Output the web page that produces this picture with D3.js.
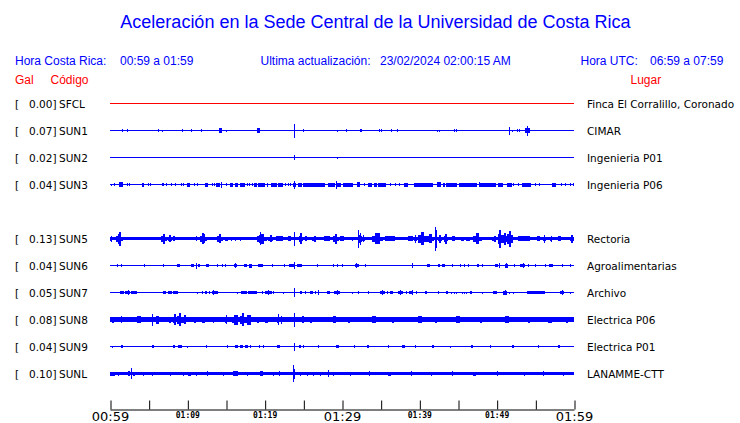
<!DOCTYPE html>
<html><head><meta charset="utf-8">
<script src="https://cdn.jsdelivr.net/npm/d3@7"></script>
<style>
html,body{margin:0;padding:0;background:#fff;}
svg{display:block;}
</style></head>
<body>
<svg id="chart" width="740" height="423"></svg>
<script>
// ---------------- DATA ----------------
const titleText = "Aceleración en la Sede Central de la Universidad de Costa Rica";
const localRange = "00:59 a 01:59";
const utcRange = "06:59 a 07:59";
const lastUpdate = "23/02/2024 02:00:15 AM";

const slots  = [0, 1, 2, 3, 5, 6, 7, 8, 9, 10];
const codes  = ["SFCL", "SUN1", "SUN2", "SUN3", "SUN5", "SUN6", "SUN7", "SUN8", "SUN9", "SUNL"];
const gals   = [0.00, 0.07, 0.02, 0.04, 0.13, 0.04, 0.05, 0.08, 0.04, 0.10];
const places = ["Finca El Corralillo, Coronado", "CIMAR", "Ingenieria P01", "Ingenieria P06",
                "Rectoria", "Agroalimentarias", "Archivo", "Electrica P06", "Electrica P01", "LANAMME-CTT"];
// background noise level (relative amplitude)
const noiseLevels = [0, 0, 0, 0, 1.7, 0, 0, 2.3, 0, 1.7];

const tickMinutes = [0, 5, 10, 15, 20, 25, 30, 35, 40, 45, 50, 55, 60];
const tickLabels  = ["00:59", "01:09", "01:19", "01:29", "01:39", "01:49", "01:59"];

// events: [minutes after 00:59, duration in minutes, relative amplitude]
const sfclEvents = [];
const sun1Events = [[1.59,0,1.5],[2.24,0,1.5],[6.25,0,1.5],[6.76,0,1],[9.35,0,1.5],[10.51,0,1.5],[11.81,0,1.5],[14.09,0.4,2.5],[14.96,0,1],[19.05,0.4,2.5],[23.83,0,7],[24.92,0,1.5],[29.39,0,1],[30.56,0,1.5],[32.33,0.26,1.5],[33.53,0,0.7],[34.75,0,1.5],[35.08,0,1.5],[36.37,0,1.5],[37.15,0,1.5],[42.32,0,1.2],[42.54,0,1.2],[44.52,0,1.5],[44.70,0,1.5],[45.69,0,0.7],[49.18,0,0.7],[51.63,0,4],[51.98,0,1],[52.59,0,1.5],[52.93,0,1.5],[53.66,0.65,2.5],[53.96,0,5]];
const sun2Events = [[23.83,0,2.5],[29.39,0,1]];
const sun3Events = [[0.13,0,1],[0.56,0,1.5],[1.20,0.52,2.5],[2.16,0,1.5],[2.46,0,1.5],[4.18,0.26,1.8],[4.87,0,1.5],[5.13,0,1.5],[6.69,0,1.5],[6.89,0,1.5],[7.28,0,1.5],[7.93,0,1.5],[8.41,0,1.5],[9.22,0,1.5],[9.48,0,1.5],[9.92,0.43,1.8],[10.90,0,1.5],[11.25,0,1.5],[12.25,0.39,1.8],[13.15,0,1.5],[13.45,0,1.5],[13.75,0.48,1.8],[14.35,0.17,3],[14.96,0,1.5],[15.52,0.43,1.8],[16.16,0.4,1.8],[16.81,0.65,1.8],[17.75,0,1.5],[18.01,0,1.5],[18.32,0,1.5],[18.66,0.31,1.8],[19.18,0.87,1.8],[20.26,0.21,1.8],[20.78,0.78,1.8],[21.76,0.65,1.8],[22.67,0,1.5],[22.98,0,1.5],[23.28,0,1.5],[23.70,0.31,1.8],[23.83,0,4],[24.35,0.44,2.2],[25.0,2.8,1.8],[28.15,0.95,1.8],[29.26,0,4],[29.39,0.48,2.2],[30.17,1.29,1.8],[31.98,0.35,2.5],[32.85,0,1.5],[33.40,0.44,1.8],[34.18,0.31,1.8],[34.69,1.0,1.8],[36.21,0,1.5],[36.85,0,1.5],[37.41,0,1.5],[38.02,0.56,1.8],[39.31,2.5,1.8],[42.25,0.52,2.5],[43.02,0.3,1.8],[43.45,1.38,1.8],[45.13,2.29,1.8],[47.75,0,2.5],[47.85,2.07,1.8],[50.21,0.65,1.8],[51.30,0.65,1.8],[52.15,0,1.5],[52.80,0,1.5],[53.24,1.16,1.8],[54.96,0,1.5],[55.51,0,1.5],[57.12,0.56,1.8],[58.28,0,1.5],[58.88,0,1.5],[59.48,0,1.5],[59.91,0,1.5]];
const sun5Events = [[0,0.43,3],[0.78,0.87,5],[1.1,0.3,7],[6.59,0.74,5],[7.46,0.52,3.5],[8.19,0.22,2.5],[11.12,0.17,2.5],[11.64,0.87,4.5],[11.9,0.2,5.5],[13.80,0.85,4.5],[14.87,0.43,2],[15.65,0,2],[16.16,0,2],[16.81,0,2],[18.97,1.29,5],[19.3,0.4,6.5],[20.39,0.72,3.5],[21.43,0.98,2.5],[23.06,0.35,2.5],[23.83,0,7],[24.44,0.56,5.5],[25.22,0.3,2.5],[26.16,0.57,3],[27.67,0.78,2.5],[28.80,0.85,5],[29.74,0.52,2.5],[31.25,0,2],[32.11,0.15,9],[32.2,0.35,6],[32.55,0.43,3.5],[33.84,1.42,5.5],[35.56,1.29,2.5],[38.57,0.65,2.5],[39.31,0.43,4],[39.87,1.09,6.5],[41.03,0.87,4.5],[41.99,0.34,9],[42.05,0,12],[42.45,0.44,4],[43.19,0.56,5],[44.19,0.43,2.5],[45.35,0.43,2],[46.03,0.52,2],[46.90,1.16,5.5],[49.36,0.65,3],[50.21,0.44,9],[50.65,0.65,6],[51.30,0.85,8],[52.80,1.51,2.5],[55.18,0.43,2.5],[55.95,0.43,4],[56.90,0.43,3],[57.97,0.31,2.5],[59.48,0.52,4]];
const sun6Events = [[0.87,0.22,1.5],[1.42,0,1.5],[3.14,0,0.7],[4.44,0,1.5],[6.89,0,1.5],[8.66,0.39,1.5],[10.47,0.43,1.5],[11.08,0,3],[11.34,0.3,1.5],[12.38,0.43,1.5],[13.88,0,1.5],[14.44,0,1.5],[14.87,0,1.5],[16.07,0.31,1.5],[16.16,0,2.5],[17.33,0.35,1.5],[17.97,0.43,2],[19.10,0.72,1.5],[20.91,0.21,1.5],[22.54,0,1.5],[23.15,0.65,1.5],[23.83,0,3.5],[24.14,0.72,1.5],[26.81,0,1.5],[28.88,0,1.5],[29.31,0.21,1.5],[29.96,0,1.5],[31.68,0.56,1.5],[31.81,0,2.5],[32.97,0,1.5],[39.01,0,2.5],[41.03,0.35,1.5],[42.38,0.3,1.5],[42.89,0.43,1.5],[44.19,0,1.5],[45.26,0,1.5],[45.82,0,1.5],[46.33,0,1.5],[47.42,0.34,1.5],[48.07,0,1.5],[49.79,0.43,1.5],[50.34,0,2.5],[51.08,0.43,2],[51.21,0,2.5],[52.24,0,1.5],[53.02,0.65,1.5],[53.37,0,2.5],[54.09,0,1.5],[54.96,0,1.5],[56.25,0,1.5],[56.81,0.44,1.5],[58.41,0,1.5],[59.48,0,1.5]];
const sun7Events = [[1.29,0.56,1.5],[1.94,0.65,1.5],[2.29,0,2.5],[2.72,0.74,1.5],[6.89,0.35,1.5],[7.46,0.52,1.5],[8.19,0.57,1.5],[11.21,0,1],[11.86,0.21,1.5],[12.28,0.22,1.5],[12.80,0,1.5],[13.15,0.78,1.5],[13.36,0,2.5],[16.38,0,1],[16.94,0.74,1.5],[17.81,1.16,1.5],[19.62,0.21,1.5],[20.04,0.87,1.5],[20.47,0,2.5],[21.12,0,1.5],[22.41,0,1],[23.83,0,4.5],[24.57,0.3,1.5],[25.22,0,1.5],[25.86,0.43,1.5],[26.51,0,1.5],[26.86,0,2.5],[28.02,0.43,1.5],[29.0,0.74,1.5],[29.39,0,2.5],[31.25,0,1],[32.11,0,1.5],[33.40,0,1.5],[34.91,0.65,1.5],[35.13,0,2.5],[35.86,0,1.5],[36.21,0.35,1.5],[37.28,0.65,1.5],[37.50,0,2.5],[38.24,0,1.5],[38.66,0.48,1.5],[39.01,0,2.5],[39.57,0,1.5],[40.73,0.3,1.5],[42.45,0,1.5],[43.45,0.3,1.5],[44.10,0,1],[44.48,0,1],[44.74,0,1],[45.48,0,1],[45.78,0,1],[46.07,0,1],[46.55,0.3,1.5],[48.07,0,1],[49.57,0.44,1.5],[50.86,0.44,2],[51.08,0,2.5],[51.63,0,1],[52.07,0,1],[53.88,0.43,1.5],[54.31,1.94,1.5],[58.19,0.52,1.5],[58.41,0,2.5],[59.48,0,1]];
const sun8Events = [[0,0.65,3],[1.29,0.35,3.5],[3.01,1.51,3.5],[5.39,0.21,6],[5.60,1.08,4],[7.33,0.65,3],[8.11,0.6,5.5],[8.70,0.57,6.5],[9.27,0.85,4.5],[10.77,0.44,3],[11.64,0.87,3],[13.15,0.43,3],[14.87,0.43,4.5],[15.74,1.07,5],[16.81,0.65,6.5],[17.46,1.08,5],[18.75,0.65,3],[19.82,0.87,3],[21.56,0.43,5.5],[21.98,0.35,4],[23.83,0,7],[24.57,0.65,3.5],[25.64,0.65,3],[28.45,1.2,3.5],[30.5,0.8,3.2],[33.6,1.0,3.5],[36.2,0.6,3],[39.5,1.2,3.5],[41.9,0.5,3],[44.5,1.0,3.5],[47.6,0.8,3],[50.8,1.1,3.5],[53.9,0.6,3],[56.3,1.2,3.2],[58.8,0.6,3]];
const sun9Events = [[0.22,0,1],[1.38,0.26,1.5],[5.39,0.3,1.5],[8.19,0.22,1.5],[8.83,0.44,1.5],[9.99,0,1],[12.41,0.17,1.5],[15.17,0,1.5],[16.16,0.43,1.5],[16.81,0.43,1.5],[17.46,0.43,1.5],[18.10,0,1.5],[19.31,0,1.5],[19.75,0,1.5],[21.56,0.43,1.5],[23.83,0,4],[24.48,0.22,1.5],[25.00,0,1.5],[26.94,0,1.5],[29.22,0.35,1.5],[31.5,0,1.5],[33.2,0.3,1.5],[35.9,0,1.5],[37.8,0.4,1.5],[39.4,0,1.5],[41.6,0.3,1.5],[44.0,0,1],[46.7,0.3,1.5],[49.2,0,1.5],[52.0,0.3,1.5],[55.3,0,1.5],[57.9,0.3,1.5]];
const sunlEvents = [[0,0.65,2.2],[1.07,0,2],[2.37,0.22,2.5],[2.72,0,5.5],[3.01,0.22,2.2],[4.31,0,2.2],[5.39,0,2.2],[7.76,0,2.2],[9.40,0,2.2],[10.04,0.44,2.2],[11.12,0,2.2],[12.50,0,2.5],[14.61,0,2.2],[15.95,0.65,2.5],[17.67,0,2.2],[19.40,0.35,2.5],[21.12,0,2.2],[21.9,0,2.5],[23.62,0.3,5],[23.71,0,8.5],[24.57,0,2.2],[25.43,0,2.2],[26.29,0,2.2],[27.16,0,2.2],[28.15,0,3.5],[28.88,0,2.2],[31.0,0,2.2],[33.5,0,2.5],[36.0,0.3,2.2],[38.9,0,2.5],[41.5,0,2.2],[44.2,0,2.5],[47.0,0.3,2.2],[50.1,0,2.5],[53.5,0,2.2],[56.0,0,2.5],[58.6,0,2.2]];
const stationEvents = [sfclEvents, sun1Events, sun2Events, sun3Events, sun5Events, sun6Events, sun7Events, sun8Events, sun9Events, sunlEvents];

// ---------------- DRAW ----------------
const BLUE = "#0000ff", RED = "#ff0000";
const svg = d3.select("#chart");
svg.append("rect").attr("width", 740).attr("height", 423).attr("fill", "#fff");

const t0 = new Date(2024, 1, 23, 0, 59);
const t1 = new Date(2024, 1, 23, 1, 59);
const xTime = d3.scaleTime().domain([t0, t1]).range([110, 574]);
const x = d3.scaleLinear().domain([0, 60]).range([110, 574]);
const rowY = d3.scaleLinear().domain([0, 10]).range([103, 373]);
const amp = d3.scaleLinear().domain([0, 1]).range([0, 1]);

// Title
svg.append("text").attr("x", 375.5).attr("y", 28).attr("text-anchor", "middle")
  .attr("font-family", "Liberation Sans, Arial, sans-serif").attr("font-size", 18)
  .attr("fill", BLUE).text(titleText);

const hdr = svg.append("g").attr("font-family", "Liberation Sans, Arial, sans-serif")
  .attr("font-size", 12).attr("fill", BLUE);
hdr.append("text").attr("x", 15).attr("y", 65).text("Hora Costa Rica:");
hdr.append("text").attr("x", 120).attr("y", 65).text(localRange);
hdr.append("text").attr("x", 260.5).attr("y", 65).text("Ultima actualización:");
hdr.append("text").attr("x", 380).attr("y", 65).text(lastUpdate);
hdr.append("text").attr("x", 580.5).attr("y", 65).text("Hora UTC:");
hdr.append("text").attr("x", 650).attr("y", 65).text(utcRange);

const red = svg.append("g").attr("font-family", "Liberation Sans, Arial, sans-serif")
  .attr("font-size", 12).attr("fill", RED);
red.append("text").attr("x", 15).attr("y", 84).text("Gal");
red.append("text").attr("x", 50.5).attr("y", 84).text("Código");
red.append("text").attr("x", 630.5).attr("y", 84).text("Lugar");

// burst outline: block for small events, stepped spindle for large ones
function burstPath(d, cy) {
  const x0 = Math.round(x(d[0]));
  const x1 = Math.max(x0 + 1, Math.round(x(d[0] + d[1])));
  const h = Math.round(amp(d[2]) * 2) / 2;
  const w = x1 - x0;
  if (w < 3 || h <= 2.5) {
    return `M${x0},${cy - h}H${x1}V${cy + h}H${x0}Z`;
  }
  const xm = x0 + Math.max(1, Math.round(w * 0.3));
  const xe = x0 + Math.max(2, Math.round(w * 0.7));
  const hs = Math.round(h * 0.6), he = Math.round(h * 0.45);
  return `M${x0},${cy - hs}H${xm}V${cy - h}H${xe}V${cy - he}H${x1}` +
         `V${cy + he}H${xe}V${cy + h}H${xm}V${cy + hs}H${x0}Z`;
}

// Rows
const rows = svg.append("g");
codes.forEach((code, i) => {
  const cy = rowY(slots[i]) + 0.5;
  const color = code === "SFCL" ? RED : BLUE;
  const g = rows.append("g");
  const nz = noiseLevels[i];
  g.append("rect").attr("x", x(0)).attr("width", x(60) - x(0))
    .attr("y", cy - Math.max(0.5, amp(nz))).attr("height", Math.max(1, 2 * amp(nz)))
    .attr("fill", color).attr("shape-rendering", "crispEdges");
  g.selectAll("path.ev").data(stationEvents[i]).join("path").attr("class", "ev")
    .attr("d", d => burstPath(d, cy))
    .attr("fill", color).attr("shape-rendering", "crispEdges");

  const lab = svg.append("g").attr("font-family", "DejaVu Sans, sans-serif")
    .attr("font-size", 10.5).attr("fill", "#000");
  const by = rowY(slots[i]) + 4.5;
  lab.append("text").attr("x", 15).attr("y", by).text("[");
  lab.append("text").attr("x", 56.5).attr("y", by).attr("text-anchor", "end")
    .text(d3.format(".2f")(gals[i]) + "]");
  lab.append("text").attr("x", 59).attr("y", by).text(code);
  lab.append("text").attr("x", 587).attr("y", by).text(places[i]);
});

// Axis
const axis = d3.axisBottom(xTime)
  .tickValues(tickMinutes.map(m => new Date(t0.getTime() + m * 60000)))
  .tickSizeInner(-9).tickSizeOuter(0).tickFormat("");
const ax = svg.append("g").attr("transform", "translate(0,409.5)").call(axis);
ax.select(".domain").attr("stroke", "#000").attr("stroke-width", 1);
ax.selectAll(".tick line").attr("stroke", "#000").attr("stroke-width", 1)
  .attr("transform", "translate(0.5,0)");

const parseHM = d3.timeParse("%H:%M");
tickLabels.forEach((lbl, i) => {
  const p = parseHM(lbl);
  const dt = new Date(2024, 1, 23, p.getHours(), p.getMinutes());
  const big = (i % 3 === 0);
  svg.append("text").attr("x", xTime(dt) + 0.5).attr("y", big ? 420.5 : 418)
    .attr("text-anchor", "middle")
    .attr("font-family", big ? "DejaVu Sans, sans-serif" : "DejaVu Sans Mono, monospace")
    .attr("font-weight", big ? "normal" : "bold")
    .attr("font-size", big ? 13 : 8)
    .attr("fill", "#000").text(lbl);
});
</script>
</body></html>
